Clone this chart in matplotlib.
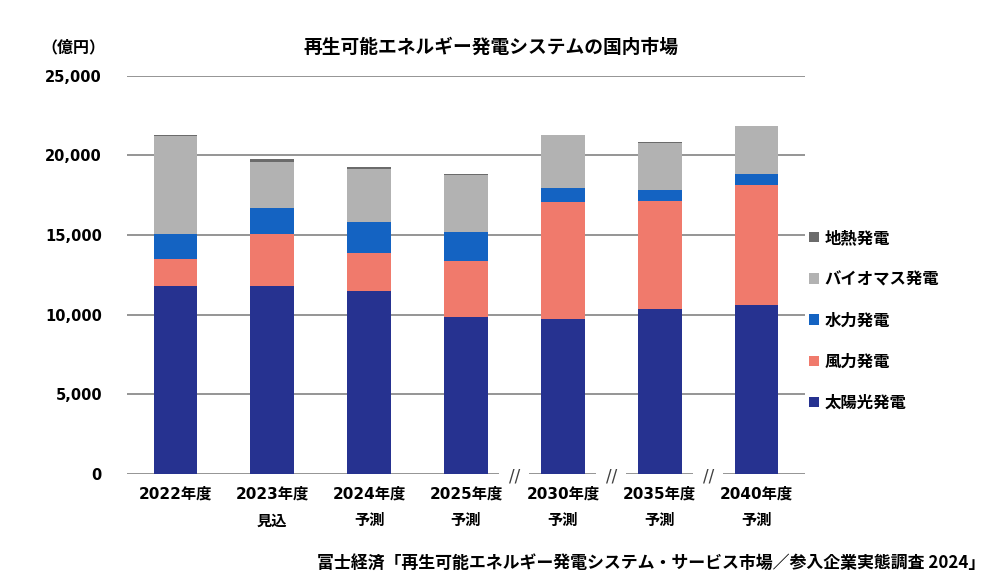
import matplotlib
matplotlib.use("Agg")
import matplotlib.pyplot as plt
from matplotlib.patches import Patch

plt.rcParams['font.family'] = ['DejaVu Sans', 'Noto Sans CJK JP']

categories = ["2022年度", "2023年度\n見込", "2024年度\n予測", "2025年度\n予測",
              "2030年度\n予測", "2035年度\n予測", "2040年度\n予測"]
solar = [11800, 11800, 11500, 9870, 9750, 10330, 10600]
wind = [1700, 3250, 2350, 3520, 7330, 6800, 7530]
hydro = [1550, 1650, 1950, 1820, 850, 710, 700]
biomass = [6200, 2870, 3350, 3580, 3330, 2950, 2990]
geothermal = [50, 200, 150, 30, 50, 40, 60]

series_names = ["太陽光発電", "風力発電", "水力発電", "バイオマス発電", "地熱発電"]
series_vals = [solar, wind, hydro, biomass, geothermal]
colors = ["#263290", "#F07A6C", "#1463C2", "#B2B2B2", "#6B6B6B"]
yticks = [0, 5000, 10000, 15000, 20000, 25000]
break_positions = [3.5, 4.5, 5.5]

fig = plt.figure(figsize=(10, 5.88), dpi=100)
ax = fig.add_axes([0.127, 0.194, 0.678, 0.677])

x = list(range(len(categories)))
xlim = (-0.5, len(categories) - 0.5)
ax.set_xlim(*xlim)
ax.set_ylim(0, 25000)

grid_c = "#8C8C8C"
for yv in yticks[1:]:
    ax.hlines(yv, xlim[0], xlim[1], color=grid_c, lw=1.3, zorder=1)
# broken baseline
gap = 0.155
edges = [xlim[0]]
for b in break_positions:
    edges += [b - gap, b + gap]
edges.append(xlim[1])
for i in range(0, len(edges), 2):
    ax.hlines(0, edges[i], edges[i + 1], color=grid_c, lw=1.3, zorder=1)
for b in break_positions:
    ax.text(b, -150, "//", ha="center", va="center", fontsize=12,
            color="#404040", zorder=3)

bottom = [0] * len(x)
for name, vals, c in zip(series_names, series_vals, colors):
    ax.bar(x, vals, width=0.45, bottom=bottom, color=c, zorder=2, label=name)
    bottom = [b + v for b, v in zip(bottom, vals)]

ax.set_xticks(x)
ax.set_xticklabels(categories, fontsize=11, fontweight="bold", linespacing=2.0)
ax.set_yticks(yticks)
ax.set_yticklabels([f"{v:,}" for v in yticks], fontsize=10.5, fontweight="bold")
ax.tick_params(axis="both", length=0)
ax.tick_params(axis="y", pad=18)
ax.tick_params(axis="x", pad=9)
for s in ax.spines.values():
    s.set_visible(False)

handles = [Patch(facecolor=c, edgecolor="none") for c in colors][::-1]
labels = series_names[::-1]
fig.legend(handles, labels, loc="center left", bbox_to_anchor=(0.809, 0.455),
           frameon=False, prop={"family": ["Noto Sans CJK JP"], "weight": "bold", "size": 11.8},
           handlelength=0.6, handleheight=0.6, handletextpad=0.35,
           labelspacing=1.42, borderpad=0, borderaxespad=0)

fig.text(0.073, 1 - 47 / 588, "（億円）", ha="center", va="center",
         fontsize=11.5, fontweight="bold", family=["Noto Sans CJK JP"])
fig.text(0.491, 1 - 47 / 588, "再生可能エネルギー発電システムの国内市場", ha="center",
         va="center", fontsize=13.5, fontweight="bold", family=["Noto Sans CJK JP"])
fig.text(0.985, 1 - 563 / 588,
         "富士経済「再生可能エネルギー発電システム・サービス市場／参入企業実態調査 2024」",
         ha="right", va="center", fontsize=12.2, fontweight="bold",
         family=["Noto Sans CJK JP"])

fig.savefig("out.png", dpi=100, facecolor="white")
